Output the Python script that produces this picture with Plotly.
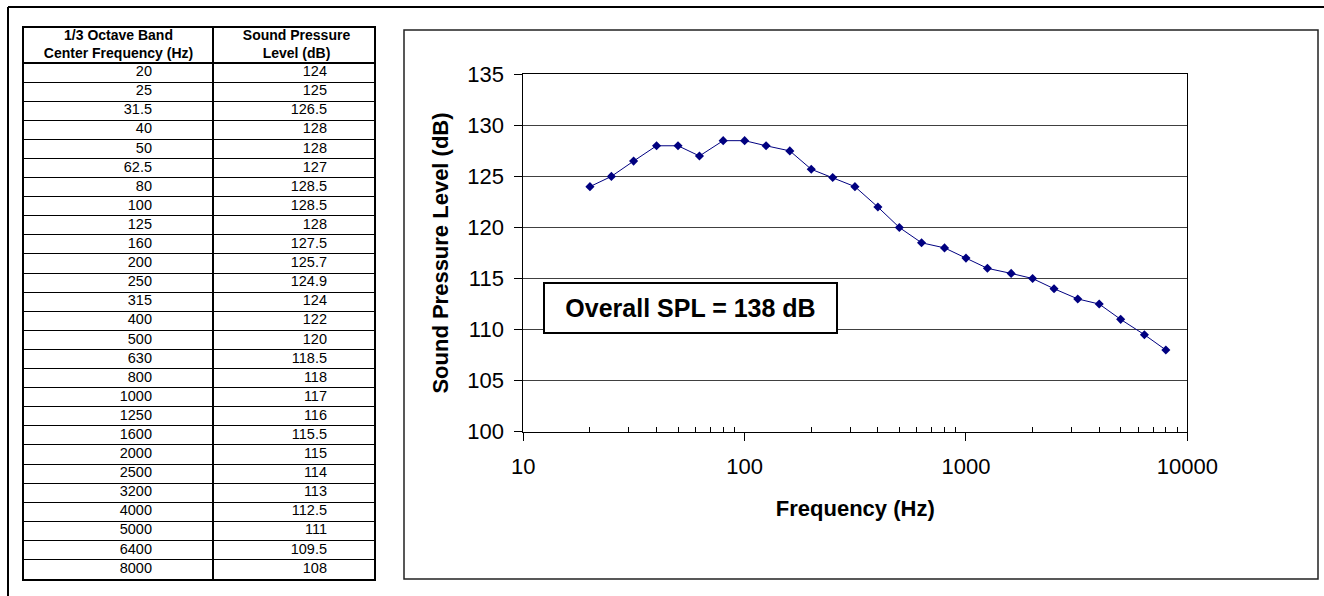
import plotly.graph_objects as go

# ---------------- data ----------------
freq_hz = [20, 25, 31.5, 40, 50, 62.5, 80, 100, 125, 160, 200, 250, 315, 400, 500,
           630, 800, 1000, 1250, 1600, 2000, 2500, 3200, 4000, 5000, 6400, 8000]
spl_db = [124, 125, 126.5, 128, 128, 127, 128.5, 128.5, 128, 127.5, 125.7, 124.9, 124, 122, 120,
          118.5, 118, 117, 116, 115.5, 115, 114, 113, 112.5, 111, 109.5, 108]
table_header = ["1/3 Octave Band<br>Center Frequency (Hz)", "Sound Pressure<br>Level (dB)"]
x_tick_vals = [10, 100, 1000, 10000]
y_tick_vals = [100, 105, 110, 115, 120, 125, 130, 135]
x_title = "Frequency (Hz)"
y_title = "Sound Pressure Level (dB)"
overall_label = "Overall SPL = 138 dB"

# ---------------- layout helpers ----------------
W, H = 1324, 596
FONT = "Arial, 'Liberation Sans', sans-serif"
NAVY = "#000080"


def px(x):
    return x / W


def py(y):
    return 1 - y / H


n = len(freq_hz)
HEADER_ROWS = 1.833          # header height in row units
COL_EDGES = [0, 189, 350]    # table column edges (px within table)
TEXT_RIGHT = [128, 303]      # right alignment of cell text

fig = go.Figure()

# main line
fig.add_trace(go.Scatter(
    x=freq_hz, y=spl_db, mode="lines+markers",
    line=dict(color=NAVY, width=1),
    marker=dict(symbol="diamond", size=7, color=NAVY),
    showlegend=False, hoverinfo="x+y", xaxis="x", yaxis="y",
))

# table cells
fmt = lambda v: f"{v:g}"
for col, values in enumerate([freq_hz, spl_db]):
    fig.add_trace(go.Scatter(
        x=[TEXT_RIGHT[col]] * n, y=[i + 0.5 for i in range(n)],
        text=[fmt(v) for v in values], mode="text", textposition="middle left",
        textfont=dict(family=FONT, size=14.5, color="black"),
        xaxis="x2", yaxis="y2", showlegend=False, hoverinfo="skip", cliponaxis=False,
    ))
fig.add_trace(go.Scatter(
    x=[(COL_EDGES[0] + COL_EDGES[1]) / 2, (COL_EDGES[1] + COL_EDGES[2]) / 2 + 3],
    y=[-HEADER_ROWS / 2] * 2, text=table_header, mode="text", textposition="middle center",
    textfont=dict(family=FONT, size=14, color="black", weight="bold"),
    xaxis="x2", yaxis="y2", showlegend=False, hoverinfo="skip", cliponaxis=False,
))

minor_vals = [m * 10 ** d for d in range(1, 4) for m in range(2, 10)]

fig.update_layout(
    width=W, height=H, margin=dict(l=0, r=0, t=0, b=0, pad=0, autoexpand=False),
    paper_bgcolor="white", plot_bgcolor="white",
    font=dict(family=FONT, color="black"),
    xaxis=dict(
        type="log", range=[1, 4], domain=[px(523.3), px(1187.3)], anchor="y", automargin=False,
        showline=True, linecolor="black", linewidth=1, mirror=True,
        ticks="outside", ticklen=8, tickcolor="black", tickwidth=1,
        tickvals=x_tick_vals, ticktext=[str(v) for v in x_tick_vals],
        tickfont=dict(size=22), ticklabelstandoff=7,
        showgrid=False, zeroline=False,
        minor=dict(ticks="inside", ticklen=5, tickcolor="black", tickvals=minor_vals, showgrid=False),
        title=dict(text=x_title, font=dict(size=22, weight="bold"), standoff=22),
    ),
    yaxis=dict(
        range=[100, 135], domain=[py(431.7), py(74.3)], anchor="x", automargin=False,
        showline=True, linecolor="black", linewidth=1, mirror=True,
        ticks="outside", ticklen=8, tickcolor="black",
        tickvals=y_tick_vals, tickfont=dict(size=22), ticklabelstandoff=6,
        showgrid=True, gridcolor="#404040", gridwidth=1, zeroline=False,
        title=dict(text=y_title, font=dict(size=22, weight="bold"), standoff=12),
    ),
    xaxis2=dict(
        range=[COL_EDGES[0], COL_EDGES[-1]], domain=[px(24), px(374)], anchor="y2", automargin=False,
        tickvals=COL_EDGES[1:-1], showgrid=True, gridcolor="black", gridwidth=2,
        showticklabels=False, ticks="", zeroline=False,
        showline=True, mirror=True, linecolor="black", linewidth=2, fixedrange=True,
    ),
    yaxis2=dict(
        range=[n, -HEADER_ROWS], domain=[py(578.6), py(28)], anchor="x2", automargin=False,
        tickvals=list(range(0, n)), showgrid=True, gridcolor="black", gridwidth=1,
        showticklabels=False, ticks="", zeroline=False,
        showline=True, mirror=True, linecolor="black", linewidth=2, fixedrange=True,
    ),
    shapes=[
        # header bottom line
        dict(type="line", xref="x2 domain", yref="y2", x0=0, x1=1, y0=0, y1=0,
             line=dict(color="black", width=2)),
        # chart frame
        dict(type="rect", xref="paper", yref="paper", x0=px(404), x1=px(1318), y0=py(579), y1=py(30),
             line=dict(color="#222222", width=1.5), layer="below"),
        # outer page frame (top and left)
        dict(type="line", xref="paper", yref="paper", x0=px(8), x1=1, y0=py(7), y1=py(7),
             line=dict(color="black", width=2)),
        dict(type="line", xref="paper", yref="paper", x0=px(8), x1=px(8), y0=0, y1=py(7),
             line=dict(color="black", width=2)),
    ],
    annotations=[
        dict(text=overall_label, xref="paper", yref="paper", x=px(690.5), y=py(308),
             xanchor="center", yanchor="middle", showarrow=False,
             font=dict(size=25, weight="bold", color="black"),
             bgcolor="white", bordercolor="black", borderwidth=2, borderpad=0,
             width=291, height=48),
    ],
)

fig.write_html(
    "out.html",
    config={"displayModeBar": False},
    post_script="document.body.style.margin='0';document.body.style.overflow='hidden';",
)
